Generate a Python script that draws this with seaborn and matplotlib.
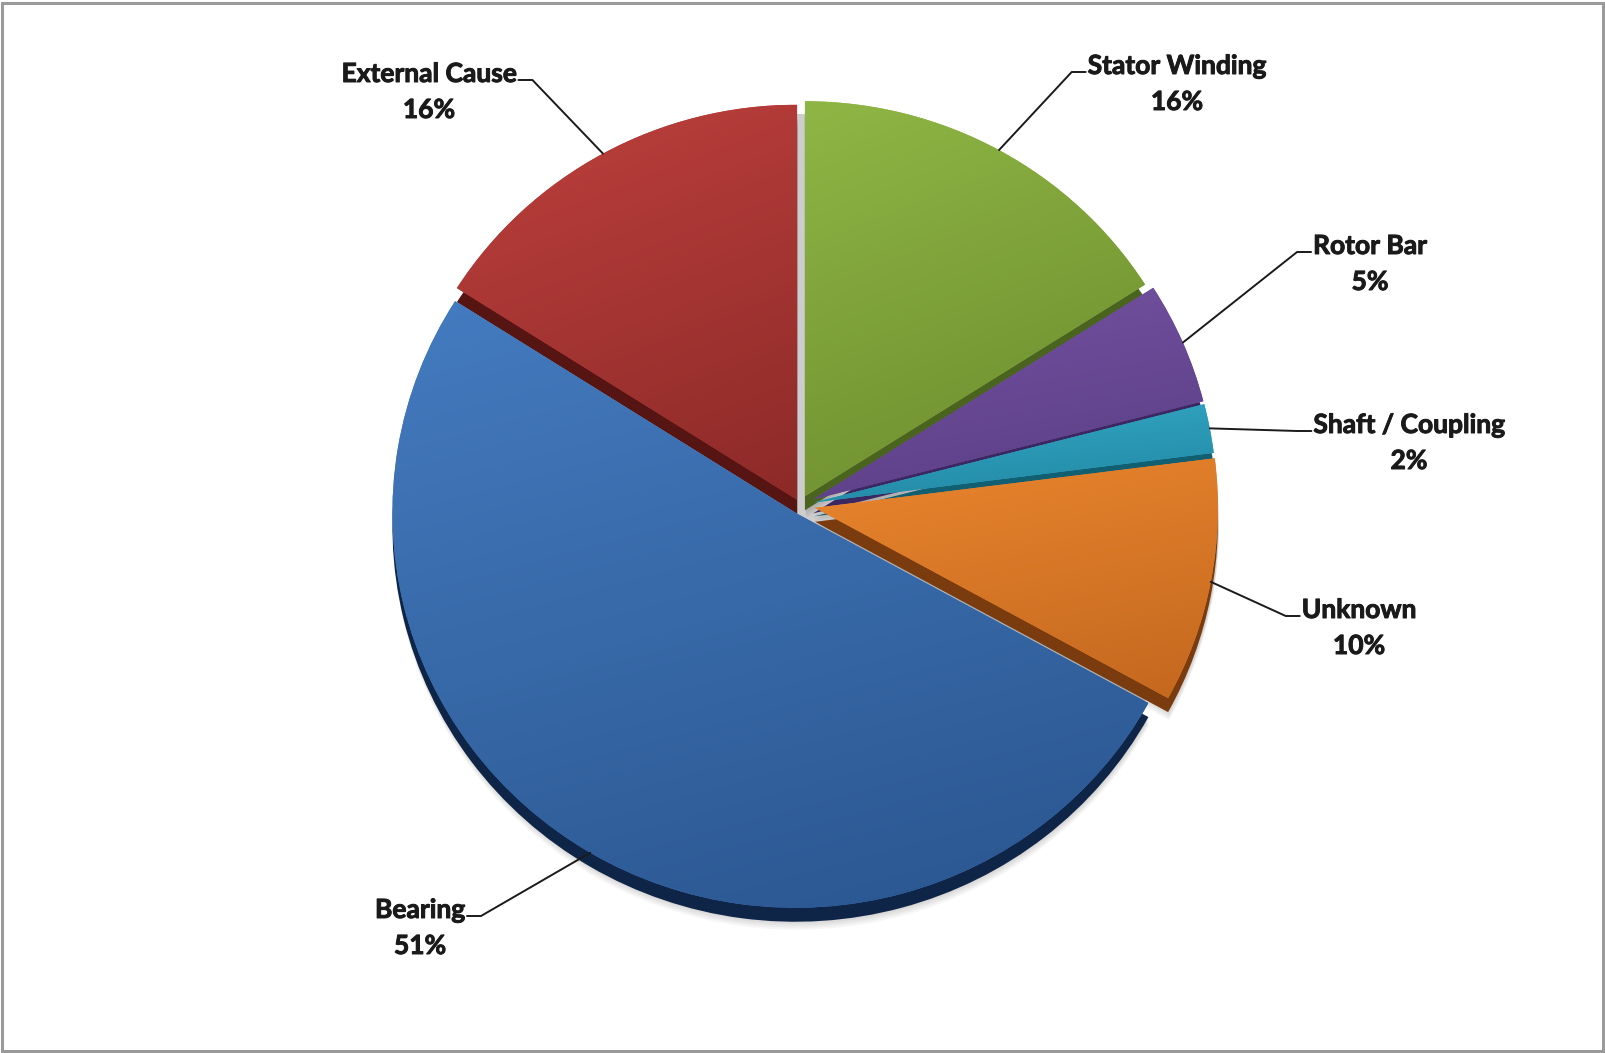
import numpy as np
import matplotlib
matplotlib.use("Agg")
import matplotlib.pyplot as plt
import matplotlib.patheffects as pe
import seaborn as sns
from matplotlib.patches import Rectangle, Circle
from matplotlib.colors import LinearSegmentedColormap

# Motor failure causes, clockwise from 12 o'clock
categories = ["Stator Winding", "Rotor Bar", "Shaft / Coupling", "Unknown", "Bearing", "External Cause"]
shares = [16, 5, 2, 10, 51, 16]

# slice styling (light top / dark bottom gradient, plus a darker bevel)
light_colors = ["#8FB645", "#7452A2", "#33A8C6", "#E9852E", "#447BC0", "#BE403D"]
dark_colors = ["#6B8A2D", "#5A3D84", "#2186A2", "#C4681F", "#2A558E", "#8C2A28"]
bevel_colors = ["#4A6420", "#3C2860", "#135F72", "#7A3B0E", "#0F2548", "#561413"]

# layout in pixels (figure is 1605 x 1053, y measured from the top)
W, H = 1605, 1053
SX = 1.02                      # pie is drawn slightly wider than tall
CX, CY, R = 800, 505, 395
explode_px = [10, 14, 14, 15, 9, 6]
BEVEL = (0, -14)
label_pos = [(1177, 66), (1370, 246), (1409, 425), (1359, 610), (420, 910), (429, 74)]
label_side = ["left", "left", "left", "left", "right", "right"]
LINE_GAP = 36

sns.set_theme(style="white")
plt.rcParams["font.family"] = ["Lato", "DejaVu Sans"]

fig = plt.figure(figsize=(W / 100, H / 100), dpi=100)
ax = fig.add_axes([0, 0, 1, 1])

cx, cy = CX / SX, H - CY

# light base visible through the gap between the top slices
ax.add_patch(Circle((cx, cy), R * 0.99, facecolor="#CDCDCD", edgecolor="none", zorder=0))

# soft drop shadow below the pie
for k, dy in enumerate(range(-22, -13, 2)):
    soft, _ = ax.pie(shares, startangle=90, counterclock=False, radius=R,
                     center=(cx + 1 / SX, cy + dy), explode=explode_px,
                     colors=["#000000"] * len(shares), frame=True,
                     wedgeprops=dict(linewidth=0, alpha=0.035))
    for w in soft:
        w.set_zorder(0.5)

# bevel layer: the same pie shifted downwards in darker tones
bevel, _ = ax.pie(shares, startangle=90, counterclock=False, radius=R,
                  center=(cx + BEVEL[0] / SX, cy + BEVEL[1]), explode=explode_px,
                  colors=bevel_colors, frame=True, wedgeprops=dict(linewidth=0))
for w in bevel:
    w.set_zorder(1)

wedges, _ = ax.pie(shares, startangle=90, counterclock=False, radius=R,
                   center=(cx, cy), explode=explode_px,
                   colors=light_colors, frame=True, wedgeprops=dict(linewidth=0))

# gradient fill clipped to each slice
grad = np.linspace(0, 1, 256)
gx, gy = np.meshgrid(grad, grad)
field = 0.75 * gy + 0.25 * gx
for w, lc, dc in zip(wedges, light_colors, dark_colors):
    w.set_zorder(2)
    bb = w.get_path().get_extents(w.get_transform() - ax.transData)
    cmap = LinearSegmentedColormap.from_list("g", [lc, dc])
    im = ax.imshow(field, cmap=cmap, extent=(bb.x0, bb.x1, bb.y0, bb.y1),
                   origin="upper", interpolation="bilinear", zorder=3,
                   aspect="auto")
    im.set_clip_path(w)

ax.set_xlim(0, W / SX)
ax.set_ylim(0, H)
ax.set_aspect("auto")
ax.axis("off")

# labels with leader lines to the middle of each slice's rim
stroke = [pe.withStroke(linewidth=0.7, foreground="#1A1A1A")]
texts = []
for name, val, (lx, ly) in zip(categories, shares, label_pos):
    t1 = ax.text(lx / SX, H - ly, name, ha="center", va="center", fontsize=19,
                 fontweight="bold", color="#1A1A1A", zorder=5, path_effects=stroke)
    ax.text(lx / SX, H - ly - LINE_GAP, f"{val}%", ha="center", va="center",
            fontsize=19, fontweight="bold", color="#1A1A1A", zorder=5,
            path_effects=stroke)
    texts.append(t1)

fig.canvas.draw()
renderer = fig.canvas.get_renderer()
inv = ax.transData.inverted()
for w, t, side in zip(wedges, texts, label_side):
    th = np.deg2rad(0.5 * (w.theta1 + w.theta2))
    px = w.center[0] + w.r * np.cos(th)
    py = w.center[1] + w.r * np.sin(th)
    bb = t.get_window_extent(renderer).transformed(inv)
    yb = bb.y0 + 6
    if side == "left":
        x0 = bb.x0 - 2 / SX
        elbow = x0 - 14 / SX
    else:
        x0 = bb.x1 + 2 / SX
        elbow = x0 + 14 / SX
    ax.plot([x0, elbow, px], [yb, yb, py], color="#1A1A1A", lw=1.4, zorder=4,
            solid_capstyle="round")

# thin grey frame around the chart area
fig.patches.append(Rectangle((0.0015, 0.002), 0.997, 0.995, transform=fig.transFigure,
                             fill=False, edgecolor="#9A9A9A", linewidth=2.2))

fig.savefig("out.png", dpi=100, facecolor="white")
